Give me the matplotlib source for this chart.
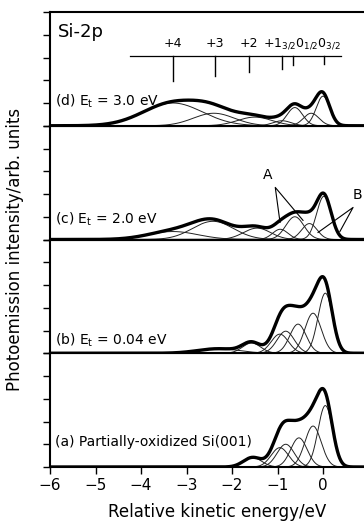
import matplotlib
matplotlib.use('Agg')
import matplotlib.pyplot as plt
import numpy as np

# Si-2p spectra, four panels (bottom to top: a, b, c, d)
panel_labels = ['(a) Partially-oxidized Si(001)',
                r'(b) E$_\mathrm{t}$ = 0.04 eV',
                r'(c) E$_\mathrm{t}$ = 2.0 eV',
                r'(d) E$_\mathrm{t}$ = 3.0 eV']
label_heights = [1.08, 0.57, 0.9, 1.08]

# fitted components per panel: centre (eV), height (arb.), width sigma (eV)
centres_a = [-1.55, -0.95, -0.82, -0.53, -0.22, 0.05]
heights_a = [0.42, 0.85, 1.0, 1.28, 1.8, 2.7]
widths_a = [0.2, 0.19, 0.19, 0.18, 0.18, 0.16]

centres_b = [-2.3, -1.57, -0.95, -0.82, -0.55, -0.22, 0.05]
heights_b = [0.2, 0.45, 0.84, 0.97, 1.28, 1.76, 2.64]
widths_b = [0.45, 0.2, 0.19, 0.19, 0.18, 0.18, 0.16]

centres_c = [-3.3, -2.42, -1.45, -0.94, -0.62, -0.3, 0.02]
heights_c = [0.35, 0.8, 0.5, 0.45, 1.0, 0.7, 1.9]
widths_c = [0.55, 0.45, 0.3, 0.17, 0.2, 0.17, 0.16]

centres_d = [-3.3, -2.4, -1.5, -0.9, -0.62, -0.26, 0.0]
heights_d = [1.0, 0.55, 0.38, 0.22, 0.8, 0.55, 1.3]
widths_d = [0.65, 0.45, 0.38, 0.2, 0.17, 0.17, 0.15]

# oxidation-state marker bars on top panel
state_pos = [-3.3, -2.38, -1.62, -0.9, -0.66, 0.02]
state_bottom = [1.98, 2.2, 2.38, 2.51, 2.69, 2.73]
state_names = ['+4', '+3', '+2']

xticks = [-6, -5, -4, -3, -2, -1, 0]

panels = [(centres_a, heights_a, widths_a),
          (centres_b, heights_b, widths_b),
          (centres_c, heights_c, widths_c),
          (centres_d, heights_d, widths_d)]

plt.rcParams['font.family'] = ['DejaVu Sans']

fig = plt.figure(figsize=(3.64, 5.26), dpi=100)
bottom, top = 1 - 467 / 526, 1 - 12 / 526
h = (top - bottom) / 4
left = 50 / 364
energy = np.linspace(-6.2, 1.2, 1500)

axes = []
for i, (cen, hgt, wid) in enumerate(panels):
    ax = fig.add_axes([left, bottom + i * h, 1 - left, h])
    total = np.zeros_like(energy)
    for c, a, s in zip(cen, hgt, wid):
        comp = a * np.exp(-(energy - c) ** 2 / (2 * s ** 2))
        total += comp
        ax.plot(energy, comp, color='#222222', lw=0.7)
    ax.plot(energy, total, color='black', lw=2.4, solid_capstyle='round')
    ax.set_xlim(-6, 0.9)
    ax.set_ylim(0, 5)
    ax.set_yticks([0, 1, 2, 3, 4, 5])
    ax.set_yticklabels([])
    ax.tick_params(axis='y', direction='out', length=5, width=1.0)
    ax.spines['right'].set_visible(False)
    for sp in ['left', 'top', 'bottom']:
        ax.spines[sp].set_linewidth(1.5)
    ax.text(-5.89, label_heights[i], panel_labels[i], fontsize=10,
            ha='left', va='center')
    if i == 0:
        ax.set_xticks(xticks)
        ax.set_xticklabels([f'\u2212{-t}' if t < 0 else str(t) for t in xticks],
                           fontsize=11)
        ax.tick_params(axis='x', direction='out', length=5, width=1.0, pad=3)
    else:
        ax.set_xticks([])
    axes.append(ax)

# top panel decorations
ax = axes[3]
ax.text(-5.82, 4.14, 'Si-2p', fontsize=13, ha='left', va='center')
ax.plot([-4.24, 0.4], [3.08, 3.08], color='black', lw=0.9)
for p, b in zip(state_pos, state_bottom):
    ax.plot([p, p], [3.08, b], color='black', lw=1.0)
for p, n in zip(state_pos[:3], state_names):
    ax.text(p, 3.6, n, fontsize=9, ha='center', va='center')
ax.text(-1.32, 3.6, r'+1$_{3/2}$0$_{1/2}$0$_{3/2}$', fontsize=9,
        ha='left', va='center')

# A / B markers on panel (c)
ax = axes[2]
ax.text(-1.21, 2.82, 'A', fontsize=10, ha='center', va='center')
ax.plot([-0.945, -1.05, -0.44], [0.75, 2.29, 0.84], color='black', lw=0.8)
ax.text(0.75, 1.94, 'B', fontsize=10, ha='center', va='center')
ax.plot([-0.11, 0.66, 0.37], [0.31, 1.41, 0.35], color='black', lw=0.8)

fig.text(0.04, 1 - 249 / 526, 'Photoemission intensity/arb. units',
         rotation=90, fontsize=12, ha='center', va='center')
fig.text(217 / 364, 1 - 512 / 526, 'Relative kinetic energy/eV',
         fontsize=12, ha='center', va='center')

fig.savefig('out.png', dpi=100)
